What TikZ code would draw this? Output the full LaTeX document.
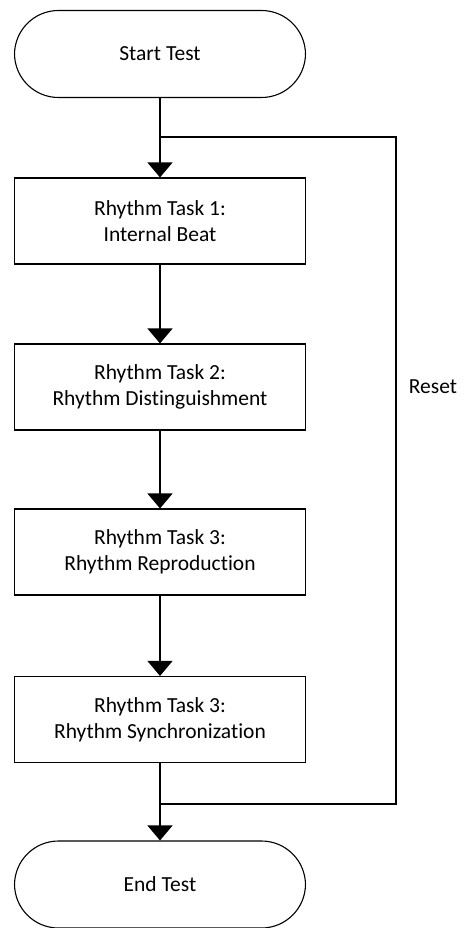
\documentclass[tikz,border=0pt]{standalone}
\usepackage{fontspec}
\setmainfont{Carlito}[RawFeature={-liga;-clig;-dlig}]
\usetikzlibrary{arrows.meta}
\begin{document}
\begin{tikzpicture}[x=1pt,y=-1pt,
  every node/.style={font=\fontsize{21.5}{26}\selectfont},
  term/.style={draw, line width=1.1pt, minimum width=291pt, minimum height=87pt, rounded corners=44pt, align=center, inner sep=0pt},
  proc/.style={draw, line width=1.1pt, minimum width=291pt, minimum height=86pt, align=center, inner sep=0pt},
  flow/.style={line width=1.2pt, -{Triangle[width=25pt,length=15pt]}},
  line/.style={line width=1.2pt}]
\useasboundingbox (0,0) rectangle (464,928);
\node[term] (start) at (160,54) {Start Test};
\node[proc] (b1) at (160,221) {Rhythm Task 1:\\Internal Beat};
\node[proc] (b2) at (160,387) {Rhythm Task 2:\\Rhythm Distinguishment};
\node[proc] (b3) at (160,552) {Rhythm Task 3:\\Rhythm Reproduction};
\node[proc] (b4) at (160,719.5) {Rhythm Task 3:\\Rhythm Synchronization};
\node[term] (end) at (160,884.5) {End Test};
\coordinate (j1) at (160,137);
\coordinate (j2) at (160,804);
\coordinate (r1) at (396,137);
\coordinate (r2) at (396,804);
\draw[flow] (start) -- (b1);
\draw[flow] (b1) -- (b2);
\draw[flow] (b2) -- (b3);
\draw[flow] (b3) -- (b4);
\draw[flow] (b4) -- (end);
\draw[line] (j2) -- (r2) -- (r1) -- (j1);
\node (reset) at (433,387) {Reset};
\end{tikzpicture}
\end{document}
